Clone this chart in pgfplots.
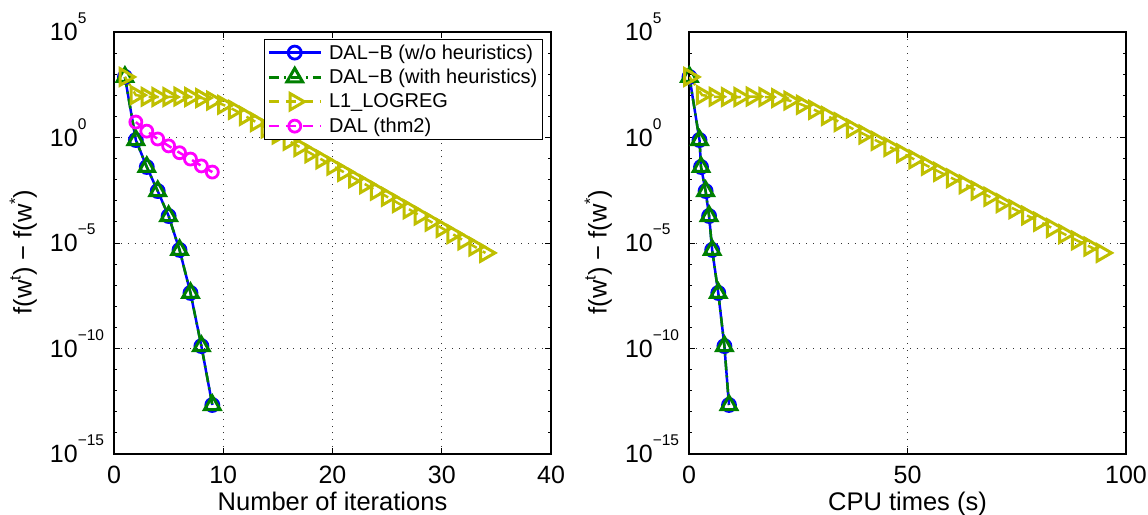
\documentclass[border=0pt]{standalone}
\usepackage{pgfplots}
\pgfplotsset{compat=1.18}
\usepackage{fontspec}
\setmainfont{Liberation Sans}
\newcommand\tsp[1]{\smash{\raisebox{17pt}{\fontsize{15.5}{15.5}\selectfont #1}}}
\newcommand\lsp[1]{\smash{\raisebox{11pt}{\fontsize{16}{16}\selectfont #1}}}
\newcommand\tlab[1]{10\rlap{\tsp{#1}}}
\definecolor{dalb}{rgb}{0,0,1}
\definecolor{dalg}{rgb}{0,0.5,0}
\definecolor{lone}{rgb}{0.75,0.75,0}
\definecolor{mag}{rgb}{1,0,1}
\pgfplotsset{
  commonax/.style={
    scale only axis, width=437pt, height=422pt,
    grid=major,
    major grid style={black!80, line width=0.9pt, dash pattern=on 0.9pt off 6pt},
    axis line style={black, line width=1.2pt},
    tick style={black, line width=1pt},
    major tick length=6pt, minor tick length=3pt,
    tick align=inside,
    ticklabel style={font=\fontsize{25}{28}\selectfont},
    yticklabel style={anchor=east, inner sep=0pt, xshift=-36pt},
    xticklabel style={anchor=north, inner sep=0pt, yshift=-12pt},
    label style={font=\fontsize{25.5}{28}\selectfont},
    xlabel style={at={(axis description cs:0.5,-0.1327)}, anchor=base},
    ylabel style={at={(axis description cs:-0.2035,0.479)}, anchor=center},
  },
  dalbstyle/.style={color=dalb, line width=2.5pt, mark=o, mark size=6.5pt, mark options={solid, line width=2.8pt}},
  dalgstyle/.style={color=dalg, line width=2.5pt, dash pattern=on 10pt off 5pt on 2pt off 5pt, mark=triangle, mark size=9pt, mark options={solid, line width=3pt}},
  lonestyle/.style={color=lone, line width=2.5pt, dash pattern=on 10pt off 7pt, mark=triangle, mark size=9.5pt, mark options={solid, rotate=-90, line width=3pt}},
  magstyle/.style={color=mag, line width=2.5pt, dash pattern=on 10pt off 7pt, mark=o, mark size=6pt, mark options={solid, line width=2.8pt}},
}
\begin{document}
\begin{tikzpicture}
\useasboundingbox (0pt,0pt) rectangle (1148pt,514pt);
\begin{axis}[commonax, at={(114pt,60pt)}, anchor=south west,
  ymode=log, ymin=1e-15, ymax=1e5,
  ytick={1e-15,1e-10,1e-5,1,1e5},
  yticklabels={\tlab{−15},\tlab{−10},\tlab{−5},\tlab{0},\tlab{5}},
  minor ytick={1e-14,1e-13,1e-12,1e-11,1e-9,1e-8,1e-7,1e-6,1e-4,1e-3,1e-2,1e-1,1e1,1e2,1e3,1e4},
  xmin=0, xmax=40, xtick={0,10,20,30,40}, xticklabels={0,10,20,30,40},
  xlabel={Number of iterations},
  ylabel={f(w\lsp{t}) − f(w\lsp{*})},
  legend image code/.code={\draw[mark repeat=2,mark phase=2,#1] plot coordinates {(0pt,0pt) (26pt,0pt) (52pt,0pt)};},
  legend style={at={(1,1)}, anchor=north east, xshift=-8pt, yshift=-7pt,
    font=\fontsize{20}{22}\selectfont, draw=black, line width=1.2pt, fill=white,
    inner sep=3pt, row sep=4.7pt, column sep=5pt, nodes={inner sep=2pt}, cells={anchor=west}}]
\addplot[dalbstyle] coordinates {(1,741) (2,0.76) (3,0.040) (4,2.9e-3) (5,1.9e-4) (6,4.7e-6) (7,4.3e-8) (8,1.3e-10) (9,2.1e-13)};
\addlegendentry{DAL−B (w/o heuristics)}
\addplot[dalgstyle] coordinates {(1,741) (2,0.76) (3,0.040) (4,2.9e-3) (5,1.9e-4) (6,4.7e-6) (7,4.3e-8) (8,1.3e-10) (9,2.1e-13)};
\addlegendentry{DAL−B (with heuristics)}
\addplot[lonestyle] coordinates {(1,741) (2,102) (3,85) (4,83) (5,83) (6,87) (7,83) (8,74) (9,56) (10,35.5) (11,20.4) (12,10.5) (13,5.37) (14,2.69) (15,1.38) (16,0.692) (17,0.355) (18,0.178) (19,0.0912) (20,0.0457) (21,0.0234) (22,0.0117) (23,6.03e-3) (24,3.02e-3) (25,1.55e-3) (26,7.76e-4) (27,3.98e-4) (28,2.0e-4) (29,1.02e-4) (30,5.13e-5) (31,2.63e-5) (32,1.32e-5) (33,6.76e-6) (34,3.39e-6)};
\addlegendentry{L1\_LOGREG}
\addplot[magstyle] coordinates {(2,5.4) (3,2.0) (4,0.85) (5,0.40) (6,0.19) (7,0.095) (8,0.045) (9,0.023)};
\addlegendentry{DAL (thm2)}
\end{axis}
\begin{axis}[commonax, at={(689pt,60pt)}, anchor=south west,
  ymode=log, ymin=1e-15, ymax=1e5,
  ytick={1e-15,1e-10,1e-5,1,1e5},
  yticklabels={\tlab{−15},\tlab{−10},\tlab{−5},\tlab{0},\tlab{5}},
  minor ytick={1e-14,1e-13,1e-12,1e-11,1e-9,1e-8,1e-7,1e-6,1e-4,1e-3,1e-2,1e-1,1e1,1e2,1e3,1e4},
  xmin=0, xmax=100, xtick={0,50,100}, xticklabels={0,50,100},
  xlabel={CPU times (s)},
  ylabel={f(w\lsp{t}) − f(w\lsp{*})}]
\addplot[dalbstyle] coordinates {(0.1,741) (2.4,0.76) (2.75,0.040) (3.8,2.9e-3) (4.6,1.9e-4) (5.3,4.7e-6) (6.7,4.3e-8) (8.1,1.3e-10) (9.15,2.1e-13)};
\addplot[dalgstyle] coordinates {(0.1,741) (2.4,0.76) (2.75,0.040) (3.8,2.9e-3) (4.6,1.9e-4) (5.3,4.7e-6) (6.7,4.3e-8) (8.1,1.3e-10) (9.15,2.1e-13)};
\addplot[lonestyle] coordinates {(0.1,741) (3.0,102) (5.9,85) (8.7,83) (11.6,83) (14.4,87) (17.3,83) (20.2,74) (23.0,56) (25.9,35.5) (28.7,20.4) (31.6,10.5) (34.5,5.37) (37.3,2.69) (40.2,1.38) (43.0,0.692) (45.9,0.355) (48.8,0.178) (51.6,0.0912) (54.5,0.0457) (57.3,0.0234) (60.2,0.0117) (63.1,6.03e-3) (65.9,3.02e-3) (68.8,1.55e-3) (71.6,7.76e-4) (74.5,3.98e-4) (77.4,2.0e-4) (80.2,1.02e-4) (83.1,5.13e-5) (85.9,2.63e-5) (88.8,1.32e-5) (91.7,6.76e-6) (94.5,3.39e-6)};
\end{axis}
\end{tikzpicture}
\end{document}
